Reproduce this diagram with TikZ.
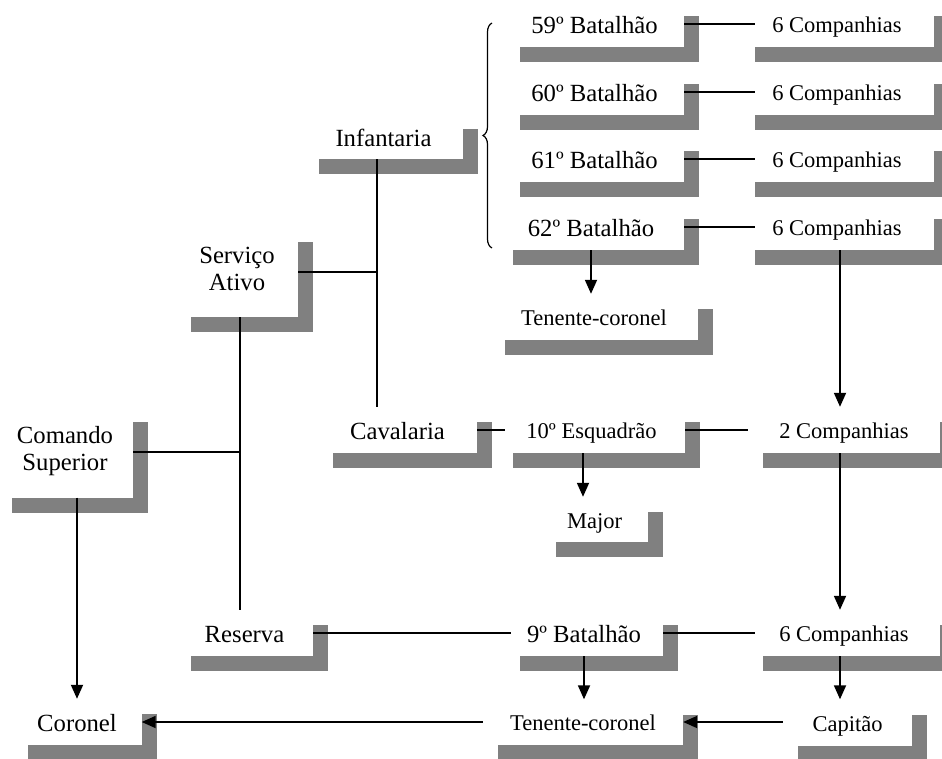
\documentclass[tikz,border=0pt]{standalone}
\usepackage{fontspec}
\setmainfont{Liberation Serif}
\usetikzlibrary{shadows,arrows.meta,decorations.pathreplacing}
\definecolor{shadowgray}{RGB}{128,128,128}
\begin{document}
\begin{tikzpicture}[x=1pt,y=-1pt,
  sbox/.style={fill=white, inner sep=0pt, minimum height=46pt,
    text height=19.5pt, text depth=0pt,
    general shadow={fill=shadowgray, shadow xshift=15pt, shadow yshift=-15pt},
    font=\fontsize{24.7}{27}\selectfont},
  sm/.style={font=\fontsize{22.5}{27}\selectfont, text height=17pt},
  twoline/.style={text height={}, text depth={}},
  conn/.style={line width=1.8pt},
  arr/.style={conn, -{Triangle[length=14pt,width=12pt]}}]
\clip (0,0) rectangle (942,758);
\fill[white] (0,0) rectangle (942,758);
% boxes
\node[sbox, minimum width=179pt] (b59) at (594.5,24) {59º Batalhão};
\node[sbox, minimum width=179pt] (b60) at (594.5,92) {60º Batalhão};
\node[sbox, minimum width=179pt] (b61) at (594.5,159) {61º Batalhão};
\node[sbox, minimum width=186pt] (b62) at (591,227) {62º Batalhão};
\node[sbox, sm, minimum width=194pt] (c59) at (837,24) {6 Companhias};
\node[sbox, sm, minimum width=194pt] (c60) at (837,92) {6 Companhias};
\node[sbox, sm, minimum width=194pt] (c61) at (837,159) {6 Companhias};
\node[sbox, sm, minimum width=194pt] (c62) at (837,227) {6 Companhias};
\node[sbox, sm, minimum width=208pt] (tc1) at (594,317) {Tenente-coronel};
\node[sbox, minimum width=159pt, minimum height=45pt] (inf) at (383.5,136.5) {Infantaria};
\node[sbox, twoline, minimum width=122pt, minimum height=90pt] (sa) at (237,272)
  {\raisebox{6pt}{\begin{tabular}{@{}c@{}}Serviço\\Ativo\end{tabular}}};
\node[sbox, twoline, minimum width=136pt, minimum height=91pt] (cs) at (65,452)
  {\raisebox{4.5pt}{\begin{tabular}{@{}c@{}}Comando\\Superior\end{tabular}}};
\node[sbox, minimum width=159pt] (cav) at (397.5,430) {Cavalaria};
\node[sbox, sm, minimum width=187pt] (esq) at (591.5,430) {10º Esquadrão};
\node[sbox, sm, minimum width=192pt] (c2) at (844,430) {2 Companhias};
\node[sbox, sm, minimum width=107pt, minimum height=45pt] (maj) at (594.5,519.5) {Major};
\node[sbox, minimum width=137pt] (res) at (244.5,633) {Reserva};
\node[sbox, minimum width=158pt] (bat9) at (584,633) {9º Batalhão};
\node[sbox, sm, minimum width=192pt] (c6) at (844,633) {6 Companhias};
\node[sbox, minimum width=129pt] (cor) at (77,722) {Coronel};
\node[sbox, sm, minimum width=200pt, minimum height=45pt] (tc2) at (583,722) {Tenente-coronel};
\node[sbox, sm, minimum width=129pt] (cap) at (847.5,722.5) {Capitão};
% brace
\draw[line width=1.2pt, decorate, decoration={brace, amplitude=9pt}] (492,248) -- (492,23);
% battalion rows
\draw[conn] (b59.east) -- ([xshift=15pt]c59.west);
\draw[conn] (b60.east) -- ([xshift=15pt]c60.west);
\draw[conn] (b61.east) -- ([xshift=15pt]c61.west);
\draw[conn] (b62.east) -- ([xshift=15pt]c62.west);
\draw[arr] (b62.south) -- (b62.south |- tc1.north);
\coordinate (c62s) at ([xshift=3pt]c62.south);
\draw[arr] (c62s) -- (c62s |- c2.north);
% trunks
\coordinate (trA) at ([xshift=-6.5pt]inf.south);
\draw[conn] (trA) -- (trA |- cav.north);
\draw[conn] (sa.east) -- (sa.east -| trA);
\coordinate (trB) at ([xshift=3pt]sa.south);
\draw[conn] (trB) -- (trB |- res.north);
\draw[conn] (cs.east) -- (cs.east -| trB);
\draw[arr] (cs.south -| cor.north) -- (cor.north);
% middle rows
\draw[conn] (cav.east) -- ([xshift=7pt]esq.west);
\draw[conn] (esq.east) -- (c2.west);
\coordinate (esqs) at ([xshift=-8.5pt]esq.south);
\draw[arr] (esqs) -- (esqs |- maj.north);
\coordinate (c2s) at ([xshift=-4pt]c2.south);
\draw[arr] (c2s) -- (c2s |- c6.north);
\draw[conn] (res.east) -- ([xshift=6pt]bat9.west);
\draw[conn] (bat9.east) -- ([xshift=7pt]c6.west);
\draw[arr] (bat9.south) -- (bat9.south |- tc2.north);
\coordinate (c6s) at ([xshift=-4pt]c6.south);
\draw[arr] (c6s) -- (c6s |- cap.north);
\draw[arr] (tc2.east -| cap.west) -- (tc2.east);
\draw[arr] (tc2.west) -- (tc2.west -| cor.east);
\end{tikzpicture}
\end{document}
